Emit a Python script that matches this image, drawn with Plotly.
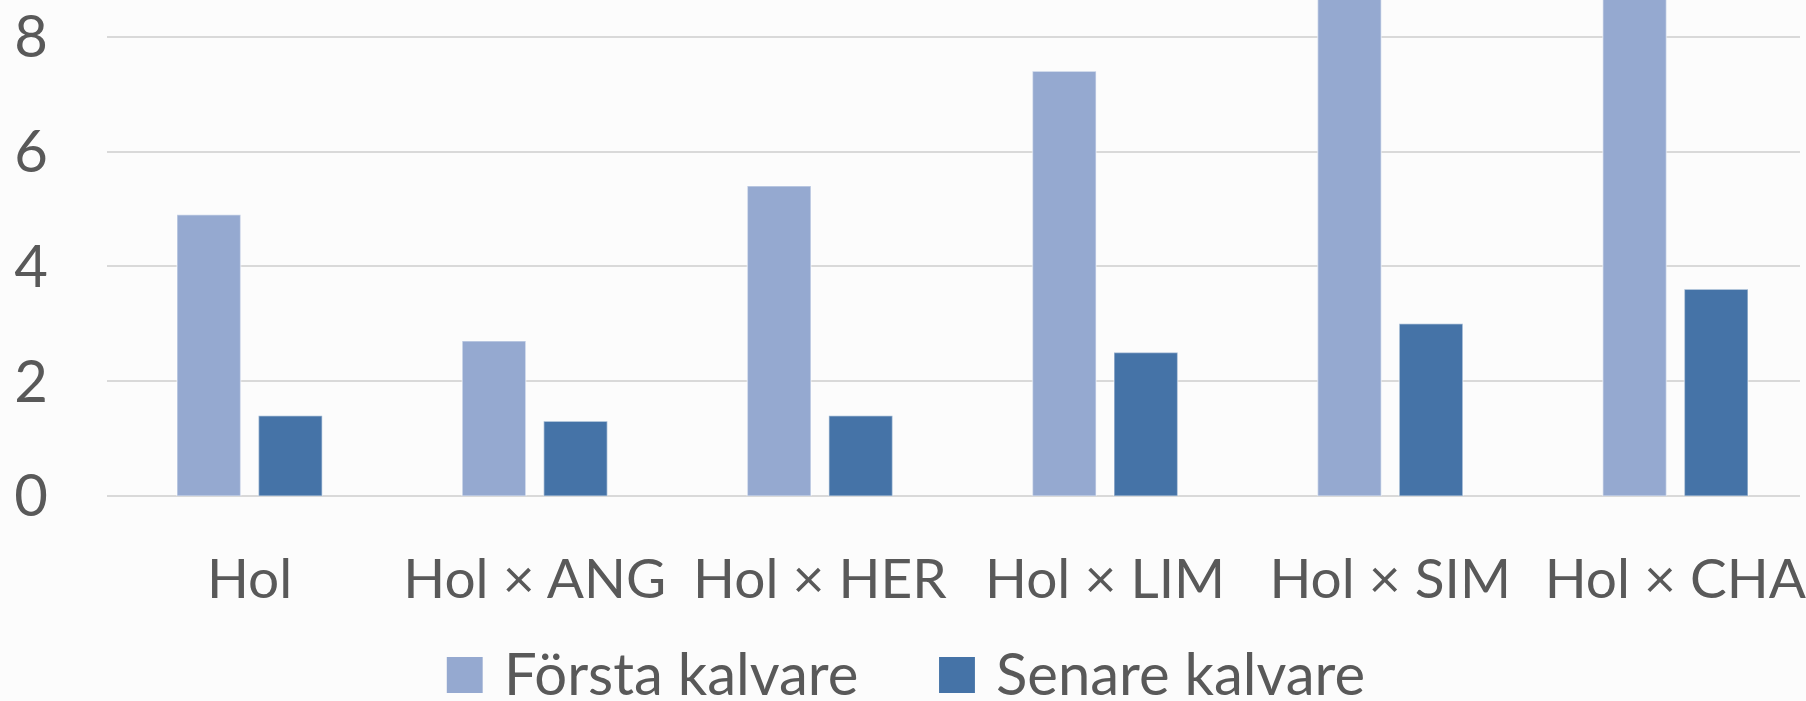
import plotly.graph_objects as go

kategorier = ['Hol', 'Hol × ANG', 'Hol × HER', 'Hol × LIM', 'Hol × SIM', 'Hol × CHA']
forsta = [4.9, 2.7, 5.4, 7.4, 9.3, 9.5]
senare = [1.4, 1.3, 1.4, 2.5, 3.0, 3.6]
serier = ['Första kalvare', 'Senare kalvare']
farger = ['#95A9D0', '#4573A7']

W, H = 1806, 701
ML, MB = 107, 205
font = 'Lato, Open Sans, sans-serif'
textfarg = '#595959'

fig = go.Figure()
for namn, varden, farg in zip(serier, [forsta, senare], farger):
    fig.add_trace(go.Bar(x=kategorier, y=varden, name=namn, marker_color=farg,
                         marker_line=dict(color='rgba(255,255,255,0.45)', width=1.5),
                         showlegend=False))

# egen förklaring (stora rutor som i Excel)
def px_x(p):
    return (p - ML) / (W - ML)

def px_y(p):
    return (H - MB - p) / (H - MB)

leg = [(448, 503), (942, 997)]
for (rx, tx), namn, farg in zip(leg, serier, farger):
    fig.add_shape(type='rect', xref='paper', yref='paper',
                  x0=px_x(rx), x1=px_x(rx + 36), y0=px_y(693), y1=px_y(657),
                  fillcolor=farg, line_width=0)
    fig.add_annotation(xref='paper', yref='paper', x=px_x(tx), y=px_y(672),
                       text=namn, showarrow=False, xanchor='left', yanchor='middle',
                       font=dict(size=58, color=textfarg, family=font))

fig.update_layout(
    width=W, height=H,
    margin=dict(l=ML, r=0, t=0, b=MB),
    paper_bgcolor='#FCFCFC', plot_bgcolor='#FCFCFC',
    barmode='group', bargap=0.428, bargroupgap=0.22,
    font=dict(family=font, size=55, color=textfarg),
)
fig.update_xaxes(range=[-0.5, 5.437], tickangle=0, showgrid=False,
                 ticklabelstandoff=46, showline=False, zeroline=False)
fig.update_yaxes(range=[0, 8.64], tickvals=[0, 2, 4, 6, 8], showgrid=True,
                 gridcolor='#D9D9D9', gridwidth=1.5, zeroline=True,
                 zerolinecolor='#D9D9D9', zerolinewidth=1.5,
                 tickfont=dict(size=58), ticklabelstandoff=58)

fig.write_html('out.html', config={'displayModeBar': False},
               post_script="document.body.style.margin='0';document.body.style.background='#FCFCFC';")
